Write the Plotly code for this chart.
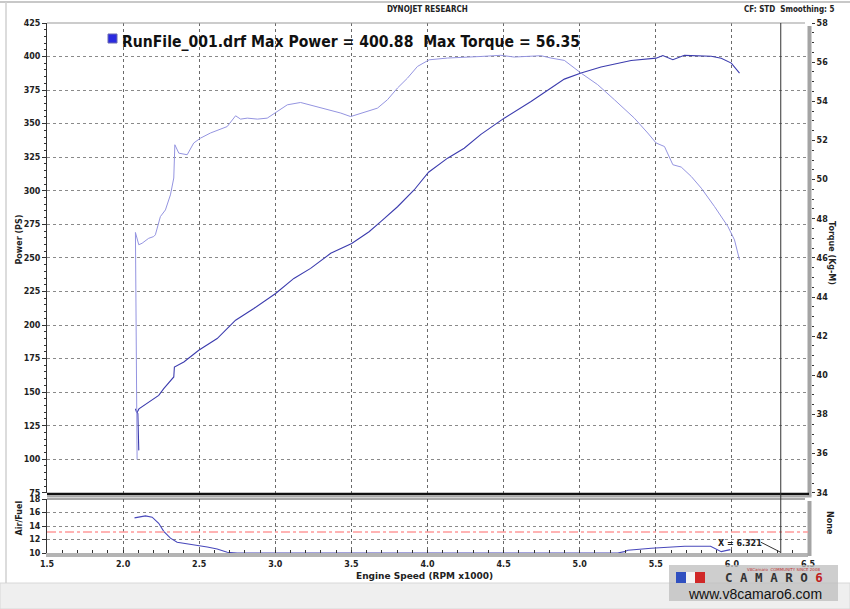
import plotly.graph_objects as go

# ---------------- data ----------------
rpm_power = [2.103, 2.100, 2.097, 2.081, 2.090, 2.104, 2.136, 2.201, 2.234, 2.267, 2.333, 2.337,
             2.399, 2.497, 2.618, 2.739, 2.859, 3.002, 3.122, 3.232, 3.364, 3.502, 3.616, 3.693,
             3.803, 3.912, 4.007, 4.132, 4.241, 4.351, 4.504, 4.680, 4.899, 5.009, 5.140, 5.338,
             5.502, 5.546, 5.612, 5.688, 5.754, 5.864, 5.930, 5.996, 6.050]
power_ps = [106.6, 120.0, 134.0, 137.5, 134.5, 137.5, 140.0, 145.0, 147.6, 152.6, 161.3, 168.7,
            172.5, 181.2, 189.9, 203.6, 212.3, 223.5, 234.7, 242.2, 253.4, 260.8, 269.5, 277.0,
            288.1, 300.6, 313.8, 324.3, 331.7, 342.0, 354.1, 366.5, 383.2, 387.7, 392.2, 397.1,
            398.8, 400.8, 397.6, 400.9, 400.6, 400.2, 398.8, 395.1, 387.7]

rpm_torque = [2.092, 2.088, 2.084, 2.081, 2.103, 2.125, 2.168, 2.201, 2.212, 2.245, 2.278, 2.311,
              2.333, 2.340, 2.366, 2.421, 2.464, 2.509, 2.574, 2.684, 2.739, 2.772, 2.816, 2.882,
              2.947, 3.013, 3.079, 3.166, 3.254, 3.342, 3.430, 3.495, 3.583, 3.671, 3.737, 3.803,
              3.868, 3.934, 4.011, 4.132, 4.351, 4.482, 4.570, 4.745, 4.811, 4.899, 5.009, 5.118,
              5.228, 5.359, 5.447, 5.502, 5.557, 5.612, 5.667, 5.733, 5.799, 5.886, 5.974, 6.017,
              6.050]
torque_kgm = [35.7, 40.0, 44.0, 47.3, 46.67, 46.75, 47.0, 47.09, 47.18, 48.11, 48.45, 49.22,
              50.08, 51.78, 51.35, 51.27, 51.87, 52.12, 52.38, 52.71, 53.26, 53.09, 53.14, 53.09,
              53.14, 53.48, 53.82, 53.94, 53.77, 53.60, 53.40, 53.22, 53.43, 53.65, 54.08, 54.68,
              55.18, 55.78, 56.12, 56.21, 56.29, 56.35, 56.26, 56.33, 56.21, 56.09, 55.44, 54.85,
              54.08, 53.14, 52.38, 51.87, 51.69, 50.76, 50.64, 50.16, 49.56, 48.62, 47.60, 46.92,
              45.90]

rpm_afr = [2.075, 2.147, 2.191, 2.234, 2.267, 2.311, 2.355, 2.421, 2.487, 2.553, 2.618, 2.684,
           2.75, 3.5, 4.5, 5.25, 5.294, 5.316, 5.47, 5.69, 5.86, 5.91, 5.93, 5.99]
afr = [15.2, 15.5, 15.3, 14.4, 13.2, 12.2, 11.6, 11.4, 11.2, 10.9, 10.6, 10.1,
       10.0, 10.0, 10.0, 10.0, 10.2, 10.4, 10.7, 11.0, 11.0, 10.4, 10.2, 10.5]

afr_target = 13.1
cursor_rpm = 6.321
max_power = 400.88
max_torque = 56.35

x_ticks = [1.5, 2.0, 2.5, 3.0, 3.5, 4.0, 4.5, 5.0, 5.5, 6.0, 6.5]

# ---------------- layout geometry ----------------
W, H = 850, 609
L, R, T, B = 47, 42, 23, 56
PW, PH = W - L - R, H - T - B


def fx(xp):
    return (xp - L) / PW


def fy(yp):
    return (H - B - yp) / PH


main_bottom = fy(492.8)
afr_top = fy(499)

FONT = "DejaVu Sans"
tickfont = dict(family=FONT, size=8, color="#222", weight="bold")

fig = go.Figure()
fig.add_trace(go.Scatter(x=rpm_torque, y=torque_kgm, xaxis="x", yaxis="y3", mode="lines",
                         line=dict(color="#9494e0", width=1), hoverinfo="x+y"))
fig.add_trace(go.Scatter(x=rpm_power, y=power_ps, xaxis="x", yaxis="y", mode="lines",
                         line=dict(color="#3c3cae", width=1.1), hoverinfo="x+y"))
fig.add_trace(go.Scatter(x=rpm_afr, y=afr, xaxis="x2", yaxis="y2", mode="lines",
                         line=dict(color="#4848bb", width=1.1), hoverinfo="x+y"))

grid = dict(showgrid=True, gridcolor="#6a6a6a", griddash="dot", gridwidth=1)

fig.update_layout(
    width=W, height=H, margin=dict(l=L, r=R, t=T, b=B),
    paper_bgcolor="white", plot_bgcolor="white", showlegend=False,
    xaxis=dict(domain=[0, 1], anchor="y", range=[1.5, 6.5], tickvals=x_ticks,
               showticklabels=False, ticks="", zeroline=False, **grid),
    yaxis=dict(domain=[main_bottom, 1], anchor="x", range=[75, 425], dtick=25,
               ticks="outside", ticklen=4, tickcolor="#333", showline=True, linecolor="#333",
               minor=dict(dtick=5, ticks="outside", ticklen=2, tickcolor="#333", showgrid=False),
               tickfont=tickfont, zeroline=False,
               showgrid=True, gridcolor="#8a8a8a", griddash="dot", gridwidth=1),
    yaxis3=dict(overlaying="y", side="right", anchor="free", position=1, shift=3,
                range=[34, 58], dtick=2, ticks="outside", ticklen=3, tickcolor="#333",
                minor=dict(dtick=0.5, ticks="outside", ticklen=2, tickcolor="#333"),
                showline=False, showgrid=False, zeroline=False, tickfont=tickfont),
    xaxis2=dict(domain=[0, 1], anchor="y2", range=[1.5, 6.5], tickvals=x_ticks,
                tickformat=".1f", ticks="inside", ticklen=3, tickcolor="#333",
                minor=dict(dtick=0.1, ticks="inside", ticklen=3, tickcolor="#333"),
                showline=True, linecolor="#b4b4b4", linewidth=4,
                tickfont=tickfont, zeroline=False, **grid),
    yaxis2=dict(domain=[0, afr_top], anchor="x2", range=[10, 18], dtick=2,
                ticks="outside", ticklen=4, tickcolor="#333", showline=True, linecolor="#333",
                tickfont=tickfont, zeroline=False,
                showgrid=True, gridcolor="#8a8a8a", griddash="dot", gridwidth=1),
)

shapes = []
# outer page frame
shapes.append(dict(type="line", xref="paper", yref="paper", x0=fx(0), x1=fx(850), y0=fy(2), y1=fy(2),
                   line=dict(color="#c8c8c8", width=2)))
shapes.append(dict(type="line", xref="paper", yref="paper", x0=fx(6), x1=fx(6), y0=fy(2), y1=fy(583),
                   line=dict(color="#d0d0d0", width=1.5)))
shapes.append(dict(type="rect", xref="paper", yref="paper", x0=fx(0), x1=fx(850), y0=fy(609), y1=fy(583),
                   fillcolor="#efefef", line=dict(color="#d8d8d8", width=1), layer="below"))
# main plot frame
shapes.append(dict(type="line", xref="paper", yref="paper", x0=0, x1=fx(805), y0=1, y1=1,
                   line=dict(color="#999", width=1)))
shapes.append(dict(type="rect", xref="paper", yref="paper", x0=fx(807.5), x1=fx(811.5), y0=fy(496), y1=fy(26),
                   fillcolor="#a4a4a4", line=dict(width=0)))
shapes.append(dict(type="line", xref="paper", yref="paper", x0=0, x1=fx(809), y0=fy(494), y1=fy(494),
                   line=dict(color="#111", width=2.5)))
shapes.append(dict(type="rect", xref="paper", yref="paper", x0=fx(47), x1=fx(811.5), y0=fy(497.5), y1=fy(495.3),
                   fillcolor="#a8a8a8", line=dict(width=0)))
# AFR frame
shapes.append(dict(type="line", xref="paper", yref="paper", x0=0, x1=fx(805), y0=afr_top, y1=afr_top,
                   line=dict(color="#555", width=1)))
shapes.append(dict(type="rect", xref="paper", yref="paper", x0=fx(807.5), x1=fx(811.5), y0=fy(556), y1=fy(501),
                   fillcolor="#a4a4a4", line=dict(width=0)))
# AFR target line
shapes.append(dict(type="line", xref="paper", yref="y2", x0=0, x1=1, y0=afr_target, y1=afr_target,
                   line=dict(color="#ff9a9a", width=1.5, dash="dashdot")))
# cursor line
shapes.append(dict(type="line", xref="x", yref="paper", x0=cursor_rpm, x1=cursor_rpm, y0=0, y1=1,
                   line=dict(color="#333", width=1)))
shapes.append(dict(type="line", xref="x2", yref="y2", x0=6.19, x1=cursor_rpm, y0=11.6, y1=10.1,
                   line=dict(color="#333", width=1)))
# legend swatch
shapes.append(dict(type="rect", xref="paper", yref="paper", x0=fx(108), x1=fx(117), y0=fy(43), y1=fy(34),
                   fillcolor="#2a2ae0", line=dict(color="#6a6ab0", width=1)))
# watermark box
shapes.append(dict(type="rect", xref="paper", yref="paper", x0=fx(669), x1=fx(838), y0=fy(601), y1=fy(565),
                   fillcolor="rgba(190,190,190,0.75)", line=dict(width=0)))
shapes.append(dict(type="rect", xref="paper", yref="paper", x0=fx(676), x1=fx(686), y0=fy(583), y1=fy(572),
                   fillcolor="#3050c0", line=dict(width=0)))
shapes.append(dict(type="rect", xref="paper", yref="paper", x0=fx(686), x1=fx(695), y0=fy(583), y1=fy(572),
                   fillcolor="#f4f4f4", line=dict(width=0)))
shapes.append(dict(type="rect", xref="paper", yref="paper", x0=fx(695), x1=fx(705), y0=fy(583), y1=fy(572),
                   fillcolor="#d02828", line=dict(width=0)))
fig.update_layout(shapes=shapes)

ann = []


def text(xp, yp, s, size=8, xanchor="center", angle=0, color="#222", weight="bold", family=FONT):
    ann.append(dict(xref="paper", yref="paper", x=fx(xp), y=fy(yp), text=s, showarrow=False,
                    xanchor=xanchor, yanchor="middle", textangle=angle,
                    font=dict(family=family, size=size, color=color, weight=weight)))


text(427, 10, "DYNOJET RESEARCH", size=8, family="DejaVu Sans Condensed")
text(837, 10, "CF: STD  Smoothing: 5", size=8, xanchor="right", family="DejaVu Sans Condensed")
text(120, 42, f"RunFile_001.drf Max Power = {max_power:.2f}  Max Torque = {max_torque:.2f}",
     size=15.6, xanchor="left", color="#111", family="DejaVu Sans Condensed")
text(18.5, 240, "Power (PS)", size=8, angle=-90)
text(832, 253, "Torque (Kg-M)", size=8, angle=90)
text(18.5, 518, "Air/Fuel", size=8, angle=-90)
text(830, 523, "None", size=8, angle=90)
text(424, 576, "Engine Speed (RPM x1000)", size=9)
text(740, 543, f"X = {cursor_rpm:.3f}", size=8)
# watermark
text(745, 569, "V8Camaro  COMMUNITY SINCE 2008", size=4, xanchor="left", color="#c03030", weight="normal")
text(774, 577.5, "C A M A R O <span style='color:#c02020'>6</span>", size=12.5, color="#333",
     family="DejaVu Sans Mono")
text(755, 594, "www.v8camaro6.com", size=14, color="#111", weight="normal", family="Liberation Sans")
fig.update_layout(annotations=ann)

fig.write_html("out.html", post_script="document.body.style.margin='0';",
               config={"displayModeBar": False})
